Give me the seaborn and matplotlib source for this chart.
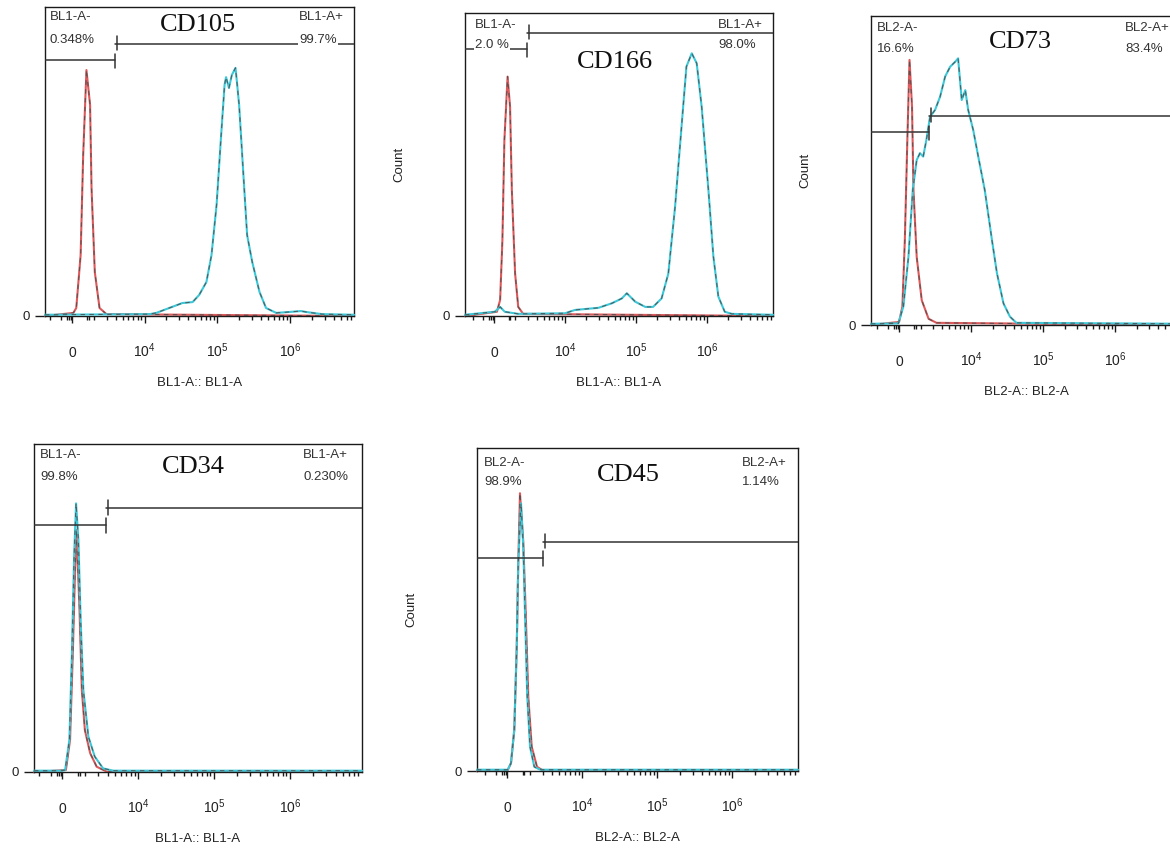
import math
import matplotlib
matplotlib.use("Agg")
import matplotlib.pyplot as plt
import seaborn as sns
from matplotlib.ticker import FixedLocator

# x = display position in decades (the "0" label sits at 3), y = % of max count
# red = isotype control, cyan = stained sample

cd105_ctrl_x = [2.63, 3.02, 3.06, 3.12, 3.155, 3.20, 3.25, 3.27, 3.315, 3.38, 3.475, 6.88]
cd105_ctrl_y = [0, 1.0, 2.6, 19.7, 52.0, 79.6, 68.3, 41.4, 14.2, 2.6, 0.6, 0]
cd105_stain_x = [2.63, 4.07, 4.16, 4.34, 4.52, 4.66, 4.75, 4.85, 4.92, 4.99, 5.05, 5.10, 5.12,
                 5.16, 5.20, 5.25, 5.27, 5.30, 5.37, 5.41, 5.48, 5.58, 5.67, 5.81, 5.99,
                 6.15, 6.22, 6.44, 6.88]
cd105_stain_y = [0.4, 0.6, 1.0, 2.6, 4.2, 4.5, 6.8, 11.0, 19.7, 36.0, 57.6, 74.8, 77.3,
                 73.8, 78.0, 80.3, 75.7, 68.3, 41.4, 26.2, 17.5, 7.8, 2.6, 1.0, 1.3,
                 1.6, 1.3, 0.6, 0.4]

cd166_ctrl_x = [2.59, 3.04, 3.085, 3.117, 3.145, 3.19, 3.225, 3.25, 3.296, 3.34, 3.41, 6.93]
cd166_ctrl_y = [0, 1.4, 5.3, 25.0, 58.0, 79.0, 69.0, 41.6, 14.0, 3.0, 0.7, 0]
cd166_stain_x = [2.59, 3.01, 3.085, 3.15, 3.34, 4.0, 4.14, 4.47, 4.66, 4.80, 4.87, 4.99,
                 5.13, 5.24, 5.36, 5.455, 5.55, 5.645, 5.71, 5.785, 5.855, 5.925, 6.02,
                 6.09, 6.16, 6.25, 6.35, 6.93]
cd166_stain_y = [0.4, 1.4, 3.0, 1.4, 0.7, 0.9, 2.0, 2.7, 4.2, 5.8, 7.5, 4.7,
                 3.0, 3.0, 5.8, 14.0, 36.0, 63.6, 82.3, 86.7, 83.4, 69.0, 41.6,
                 19.6, 6.4, 1.4, 0.7, 0.4]

cd73_ctrl_x = [2.61, 3.0, 3.046, 3.08, 3.115, 3.145, 3.18, 3.2, 3.245, 3.315, 3.41, 3.52, 6.93]
cd73_ctrl_y = [0, 1.0, 6.0, 27.5, 60.0, 85.8, 70.6, 43.7, 22.0, 8.0, 2.0, 0.7, 0]
cd73_stain_x = [2.61, 2.99, 3.06, 3.13, 3.19, 3.245, 3.29, 3.335, 3.38, 3.43, 3.5, 3.57,
                3.64, 3.71, 3.78, 3.82, 3.87, 3.92, 3.96, 4.03, 4.10, 4.19, 4.29, 4.36,
                4.45, 4.54, 4.63, 6.93]
cd73_stain_y = [0.4, 0.5, 6.0, 22.0, 43.7, 53.4, 55.6, 54.5, 60.0, 67.4, 69.6, 73.9,
                80.4, 83.6, 85.2, 86.3, 72.8, 76.0, 69.6, 63.1, 54.5, 43.7, 27.5, 16.7,
                7.0, 2.7, 0.7, 0.4]

cd34_ctrl_x = [2.63, 3.05, 3.105, 3.14, 3.17, 3.19, 3.228, 3.26, 3.30, 3.37, 3.456, 3.59, 6.95]
cd34_ctrl_y = [0, 0.6, 9.8, 35.2, 60.6, 73.8, 50.4, 25.0, 12.8, 5.7, 1.6, 0.1, 0]
cd34_stain_x = [2.63, 3.0, 3.04, 3.096, 3.128, 3.158, 3.184, 3.215, 3.246, 3.28, 3.346,
                3.43, 3.54, 3.675, 6.95]
cd34_stain_y = [0.4, 0.4, 0.6, 9.8, 35.2, 65.6, 81.9, 70.7, 45.3, 25.0, 10.8,
                4.7, 1.1, 0.4, 0.4]

cd45_ctrl_x = [2.6, 3.01, 3.053, 3.097, 3.13, 3.15, 3.173, 3.217, 3.25, 3.284, 3.33, 3.40, 3.47, 6.88]
cd45_ctrl_y = [0, 0.3, 2.4, 12.7, 38.5, 64.3, 86.0, 71.0, 48.8, 23.0, 7.5, 1.3, 0.3, 0]
cd45_stain_x = [2.6, 3.01, 3.053, 3.097, 3.13, 3.15, 3.187, 3.217, 3.24, 3.27, 3.307,
                3.364, 3.44, 6.88]
cd45_stain_y = [0.4, 0.4, 2.4, 12.7, 38.5, 64.3, 82.9, 69.4, 48.8, 23.0, 7.5,
                1.3, 0.4, 0.4]

# gate threshold (x) and the heights of the negative / positive gate bars
gate_x = [3.59, 3.46, 3.42, 3.58, 3.48]
gate_neg_y = [82.7, 88.0, 62.5, 75.3, 66.0]
gate_pos_y = [88.0, 93.4, 67.6, 80.5, 71.0]

markers = ["CD105", "CD166", "CD73", "CD34", "CD45"]
channels = ["BL1-A", "BL1-A", "BL2-A", "BL1-A", "BL2-A"]
neg_pct = ["0.348%", "2.0 %", "16.6%", "99.8%", "98.9%"]
pos_pct = ["99.7%", "98.0%", "83.4%", "0.230%", "1.14%"]

tick_pos = [3, 4, 5, 6]
tick_labels = ["0", "$10^{4}$", "$10^{5}$", "$10^{6}$"]

RED = "#dc5a5c"
CYAN = "#3cc8d8"

sns.set_theme(style="ticks")
plt.rcParams["font.family"] = ["Liberation Sans", "DejaVu Sans"]
plt.rcParams["mathtext.default"] = "regular"

FIG_W, FIG_H = 1170, 852
fig = plt.figure(figsize=(FIG_W / 100, FIG_H / 100), dpi=100)

# pixel layout of each panel: box (left, top, right, bottom), xlim, text anchors
layout = [
    dict(box=(45, 7, 354, 316), xlim=(2.63, 6.88), neg_x=50, pos_x=299, y1=17, y2=40, title=(198, 25), count=False),
    dict(box=(465, 13, 773, 316), xlim=(2.59, 6.93), neg_x=475, pos_x=718, y1=25, y2=45, title=(615, 62), count=True),
    dict(box=(871, 16, 1182, 325), xlim=(2.61, 6.93), neg_x=877, pos_x=1125, y1=28, y2=49, title=(1020, 42), count=True),
    dict(box=(34, 444, 362, 772), xlim=(2.63, 6.95), neg_x=40, pos_x=303, y1=455, y2=477, title=(193, 467), count=False),
    dict(box=(477, 448, 798, 771), xlim=(2.6, 6.88), neg_x=484, pos_x=742, y1=463, y2=482, title=(628, 475), count=True),
]

curves = [
    (cd105_ctrl_x, cd105_ctrl_y, cd105_stain_x, cd105_stain_y),
    (cd166_ctrl_x, cd166_ctrl_y, cd166_stain_x, cd166_stain_y),
    (cd73_ctrl_x, cd73_ctrl_y, cd73_stain_x, cd73_stain_y),
    (cd34_ctrl_x, cd34_ctrl_y, cd34_stain_x, cd34_stain_y),
    (cd45_ctrl_x, cd45_ctrl_y, cd45_stain_x, cd45_stain_y),
]

# log-style minor ticks plus the dense cluster around zero
minor_ticks = [2.7, 2.85, 2.93, 2.96, 2.99, 3.21, 3.23]
for d in (3, 4, 5, 6):
    for k in range(2, 10):
        minor_ticks.append(d + math.log10(k))


def fx(px):
    return px / FIG_W


def fy(py):
    return 1 - py / FIG_H


for i, lay in enumerate(layout):
    l, t, r, b = lay["box"]
    w, h = r - l, b - t
    ax = fig.add_axes([fx(l), fy(b), w / FIG_W, h / FIG_H])
    ax.set_xlim(*lay["xlim"])
    ax.set_ylim(0, 100)

    cx, cy, sx, sy = curves[i]
    for xs, ys, col, z in ((cx, cy, RED, 2), (sx, sy, CYAN, 3)):
        sns.lineplot(x=xs, y=ys, sort=False, estimator=None, ax=ax, color=col,
                     linewidth=1.5, zorder=z, clip_on=False)
        sns.lineplot(x=xs, y=ys, sort=False, estimator=None, ax=ax, color="#4d4d4d",
                     linewidth=0.8, linestyle=(0, (4, 4)), alpha=0.85, zorder=z, clip_on=False)

    # gate bars
    gx = gate_x[i]
    x0, x1 = lay["xlim"]
    gcol = "#333333"
    ax.plot([x0, gx], [gate_neg_y[i]] * 2, color=gcol, lw=1.1, zorder=4)
    ax.plot([gx, x1], [gate_pos_y[i]] * 2, color=gcol, lw=1.1, zorder=4)
    ax.plot([gx, gx], [gate_neg_y[i] - 2.5, gate_neg_y[i] + 2.0], color=gcol, lw=1.1, zorder=4)
    ax.plot([gx + 0.03, gx + 0.03], [gate_pos_y[i] - 2.0, gate_pos_y[i] + 2.5], color=gcol, lw=1.1, zorder=4)

    # axes styling
    for sp in ax.spines.values():
        sp.set_visible(True)
        sp.set_color("#1a1a1a")
        sp.set_linewidth(1.0)
    ax.set_xticks(tick_pos, tick_labels)
    ax.xaxis.set_minor_locator(FixedLocator(minor_ticks))
    ax.tick_params(axis="x", which="major", direction="out", length=5, width=1,
                   color="#1a1a1a", labelsize=10, pad=24.5, labelcolor="#222222")
    ax.tick_params(axis="x", which="minor", direction="out", length=3, width=1, color="#1a1a1a")
    for lab in ax.get_xticklabels():
        lab.set_verticalalignment("baseline")
    ax.set_yticks([0], ["0"])
    ax.yaxis.set_minor_locator(FixedLocator([]))
    ax.tick_params(axis="y", direction="out", length=7, width=1, color="#1a1a1a",
                   labelsize=9.5, pad=4, labelcolor="#222222")
    ax.tick_params(top=False, right=False)

    ax.set_xlabel(f"{channels[i]}:: {channels[i]}", fontsize=9.5, color="#222222")
    ax.xaxis.set_label_coords(0.5, -61 / h)
    if lay["count"]:
        ax.set_ylabel("Count", fontsize=9.5, color="#222222")
        ax.yaxis.set_label_coords(-60 / w, 0.5)
    else:
        ax.set_ylabel("")

    # gate and marker annotations
    box = dict(facecolor="white", edgecolor="none", pad=1.0)
    txt = dict(fontsize=9.5, color="#333333", va="center", ha="left", bbox=box, zorder=10)
    fig.text(fx(lay["neg_x"]), fy(lay["y1"]), f"{channels[i]}-", **txt)
    fig.text(fx(lay["neg_x"]), fy(lay["y2"]), neg_pct[i], **txt)
    fig.text(fx(lay["pos_x"]), fy(lay["y1"]), f"{channels[i]}+", **txt)
    fig.text(fx(lay["pos_x"]), fy(lay["y2"]), pos_pct[i], **txt)
    fig.text(fx(lay["title"][0]), fy(lay["title"][1]), markers[i], fontsize=19,
             family="Liberation Serif", color="#111111", ha="center", va="center")

fig.savefig("out.png", dpi=100)
